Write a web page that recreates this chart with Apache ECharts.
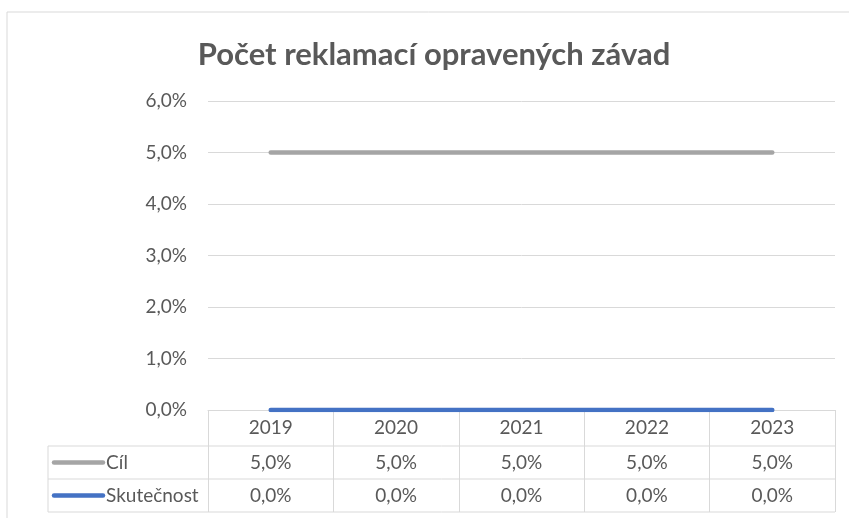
<!DOCTYPE html>
<html>
<head>
<meta charset="utf-8">
<script src="https://cdn.jsdelivr.net/npm/echarts@6/dist/echarts.min.js"></script>
<style>
  html, body { margin: 0; padding: 0; background: #fff; }
  #chart { width: 849px; height: 518px; }
</style>
</head>
<body>
<div id="chart"></div>
<script>
// data
const years = ['2019', '2020', '2021', '2022', '2023'];
const cil = [5.0, 5.0, 5.0, 5.0, 5.0];
const skutecnost = [0.0, 0.0, 0.0, 0.0, 0.0];
const seriesNames = ['Cíl', 'Skutečnost'];
const yMin = 0, yMax = 6, yStep = 1;

const GRAY = '#a5a5a5';
const BLUE = '#4472c4';
const TEXT = '#595959';
const LINE = '#d9d9d9';
const FONT = 'Lato, "Open Sans", sans-serif';
const FS = 19;

const fmt = v => v.toFixed(1).replace('.', ',') + '%';

const chart = echarts.init(document.getElementById('chart'));

chart.setOption({
    animation: false,
    textStyle: { fontFamily: FONT },
    grid: { left: 208, right: 14, top: 101, bottom: 108 },
    xAxis: {
        type: 'category',
        data: years,
        boundaryGap: true,
        axisLine: { show: true, lineStyle: { color: LINE, width: 1 } },
        axisTick: { show: true, length: 102, interval: 0, lineStyle: { color: LINE } },
        axisLabel: { color: TEXT, fontSize: FS, margin: 8, fontFamily: FONT }
    },
    yAxis: {
        type: 'value',
        min: yMin,
        max: yMax,
        interval: yStep,
        axisLine: { show: false },
        axisTick: { show: false },
        axisLabel: { color: TEXT, fontSize: FS, margin: 21, fontFamily: FONT, formatter: v => fmt(v) },
        splitLine: { lineStyle: { color: LINE, width: 1 } }
    },
    series: [
        {
            name: seriesNames[0],
            type: 'line',
            data: cil,
            showSymbol: false,
            symbol: 'none',
            lineStyle: { color: GRAY, width: 4.5, cap: 'round' },
            z: 3
        },
        {
            name: seriesNames[1],
            type: 'line',
            data: skutecnost,
            showSymbol: false,
            symbol: 'none',
            lineStyle: { color: BLUE, width: 4.5, cap: 'round' },
            z: 4
        }
    ]
});

// data table under the plot, placed from the category axis
function buildTable() {
    const xs = years.map((y, i) => chart.convertToPixel({ xAxisIndex: 0 }, i));
    const axisY = chart.convertToPixel({ yAxisIndex: 0 }, yMin);
    const plotRight = 835, tableLeft = 48;
    const rowH = 33;
    const rowTop = [axisY + 36, axisY + 36 + rowH];
    const rows = [
        { name: seriesNames[0], color: GRAY, values: cil },
        { name: seriesNames[1], color: BLUE, values: skutecnost }
    ];
    const els = [];

    // outer chart border
    els.push({
        type: 'rect', shape: { x: 7, y: 12, width: 900, height: 600 },
        style: { fill: 'none', stroke: LINE, lineWidth: 1 }, silent: true, z: -10
    });
    // title
    els.push({
        type: 'text', x: 434, y: 55,
        style: {
            text: 'Počet reklamací opravených závad', fill: TEXT,
            font: 'bold 31px ' + FONT, textAlign: 'center', textVerticalAlign: 'middle'
        }
    });

    // horizontal table lines
    const hLines = [rowTop[0], rowTop[1], rowTop[1] + rowH];
    hLines.forEach(y => {
        els.push({
            type: 'line', shape: { x1: tableLeft, y1: y, x2: plotRight, y2: y },
            style: { stroke: LINE, lineWidth: 1 }
        });
    });
    // left edge of legend column
    els.push({
        type: 'line', shape: { x1: tableLeft, y1: rowTop[0], x2: tableLeft, y2: rowTop[1] + rowH },
        style: { stroke: LINE, lineWidth: 1 }
    });

    rows.forEach((r, ri) => {
        const cy = rowTop[ri] + rowH / 2;
        els.push({
            type: 'line', shape: { x1: tableLeft + 6, y1: cy, x2: tableLeft + 55, y2: cy },
            style: { stroke: r.color, lineWidth: 4.5, lineCap: 'round' }
        });
        els.push({
            type: 'text', x: tableLeft + 58, y: cy,
            style: { text: r.name, fill: TEXT, font: FS + 'px ' + FONT, textAlign: 'left', textVerticalAlign: 'middle' }
        });
        r.values.forEach((v, i) => {
            els.push({
                type: 'text', x: xs[i], y: cy,
                style: { text: fmt(v), fill: TEXT, font: FS + 'px ' + FONT, textAlign: 'center', textVerticalAlign: 'middle' }
            });
        });
    });

    chart.setOption({ graphic: els });
}
buildTable();
</script>
</body>
</html>
